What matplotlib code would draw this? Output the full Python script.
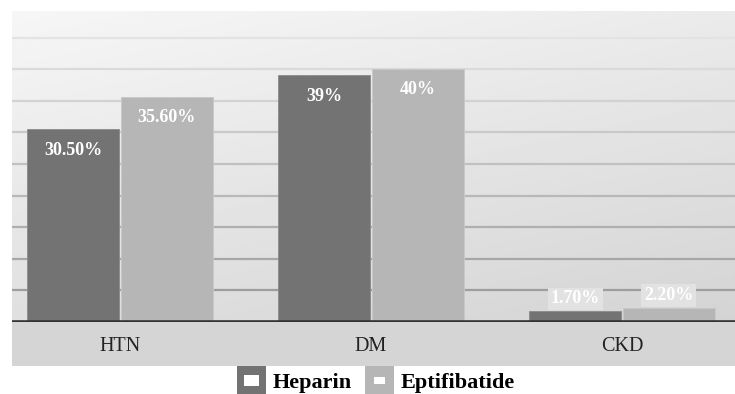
import numpy as np
import matplotlib
matplotlib.use("Agg")
import matplotlib.pyplot as plt
from matplotlib.patches import Rectangle
from matplotlib.legend_handler import HandlerPatch

categories = ["HTN", "DM", "CKD"]
heparin = [30.5, 39.0, 1.7]
eptifibatide = [35.6, 40.0, 2.2]
heparin_labels = ["30.50%", "39%", "1.70%"]
eptifibatide_labels = ["35.60%", "40%", "2.20%"]
series_names = ["Heparin", "Eptifibatide"]

DARK = "#737373"
LIGHT = "#b6b6b6"
SERIF = "Liberation Serif"

W, H = 735, 394
fig = plt.figure(figsize=(W / 100, H / 100), dpi=100)
fig.patch.set_facecolor("white")

# gray band under the category axis
fig.patches.append(Rectangle((12 / W, 1 - 366 / H), 1 - 12 / W, 44 / H,
                             transform=fig.transFigure, fc="#d5d5d5", ec="none", zorder=-5))

ax_left, ax_top, ax_bottom = 12, 11, 322
ax = fig.add_axes([ax_left / W, 1 - ax_bottom / H, 1 - ax_left / W, (ax_bottom - ax_top) / H])
ax.set_zorder(1)
ax.patch.set_alpha(0)

x = np.arange(len(categories))
ymax = 49.2
ax.set_xlim(-0.43, 2.45)
ax.set_ylim(0, ymax)

# soft gray gradient behind the plot (lighter at top-left, darker toward bottom-right)
gx, gy = np.meshgrid(np.linspace(0, 1, 200), np.linspace(0, 1, 200))
shade = 0.965 - 0.045 * gx - 0.09 * (1 - gy)
ax.imshow(shade, extent=[-0.43, 2.45, 0, ymax], origin="lower", aspect="auto",
          cmap="gray", vmin=0, vmax=1, zorder=0, interpolation="bilinear")

# horizontal gridlines, darker near the baseline
grid_levels = np.arange(5, 50, 5)
for lvl in grid_levels:
    t = (lvl - 5) / 40
    g = 0.62 + 0.27 * t
    ax.axhline(lvl, color=(g, g, g), lw=1.6, zorder=1)

bw = 0.366
off = 0.1865
b1 = ax.bar(x - off, heparin, bw, color=DARK, edgecolor="#8a8a8a", lw=0.6, zorder=2)
b2 = ax.bar(x + off, eptifibatide, bw, color=LIGHT, edgecolor="#c8c8c8", lw=0.6, zorder=2)

# baseline
ax.axhline(0, color="#333333", lw=2.6, zorder=3)

label_font = dict(family=SERIF, weight="bold", size=13, color="white")
for bars, labels in ((b1, heparin_labels), (b2, eptifibatide_labels)):
    for rect, lab in zip(bars, labels):
        h = rect.get_height()
        cx = rect.get_x() + rect.get_width() / 2
        if h > 10:
            ax.annotate(lab, (cx, h), xytext=(0, -15), textcoords="offset points",
                        ha="center", va="center", zorder=4, **label_font)
        else:
            ax.annotate(lab, (cx, h), xytext=(0, 9), textcoords="offset points",
                        ha="center", va="center", zorder=4,
                        bbox=dict(boxstyle="square,pad=0.15", fc="#e2e2e2", ec="none"),
                        **label_font)

ax.set_xticks(x)
ax.set_xticklabels(categories, family=SERIF, size=14.5, color="#222222")
ax.tick_params(axis="x", length=0, pad=10.5)
ax.set_yticks([])
for s in ax.spines.values():
    s.set_visible(False)


class FramedSquare(HandlerPatch):
    def __init__(self, inner_w, inner_h):
        super().__init__()
        self.inner_w = inner_w
        self.inner_h = inner_h

    def create_artists(self, legend, orig_handle, xdescent, ydescent, width, height,
                       fontsize, trans):
        y0 = -ydescent - 0.25 * height
        hh = height * 1.5
        outer = Rectangle((-xdescent, y0), width, hh,
                          fc=orig_handle.get_facecolor(), ec="none", transform=trans)
        iw, ih = width * self.inner_w, hh * self.inner_h
        inner = Rectangle((-xdescent + (width - iw) / 2, y0 + (hh - ih) / 2),
                          iw, ih, fc="white", ec="none", transform=trans)
        return [outer, inner]


h1 = Rectangle((0, 0), 1, 1, fc=DARK)
h2 = Rectangle((0, 0), 1, 1, fc=LIGHT)
leg = fig.legend([h1, h2], series_names, loc="center",
                 bbox_to_anchor=(376 / W, 1 - 382 / H), ncol=2, frameon=False,
                 prop=dict(family=SERIF, weight="bold", size=16),
                 handlelength=1.3, handleheight=0.9, handletextpad=0.3, columnspacing=0.6,
                 handler_map={h1: FramedSquare(0.55, 0.4), h2: FramedSquare(0.4, 0.25)})

fig.savefig("out.png", dpi=100, facecolor="white")
